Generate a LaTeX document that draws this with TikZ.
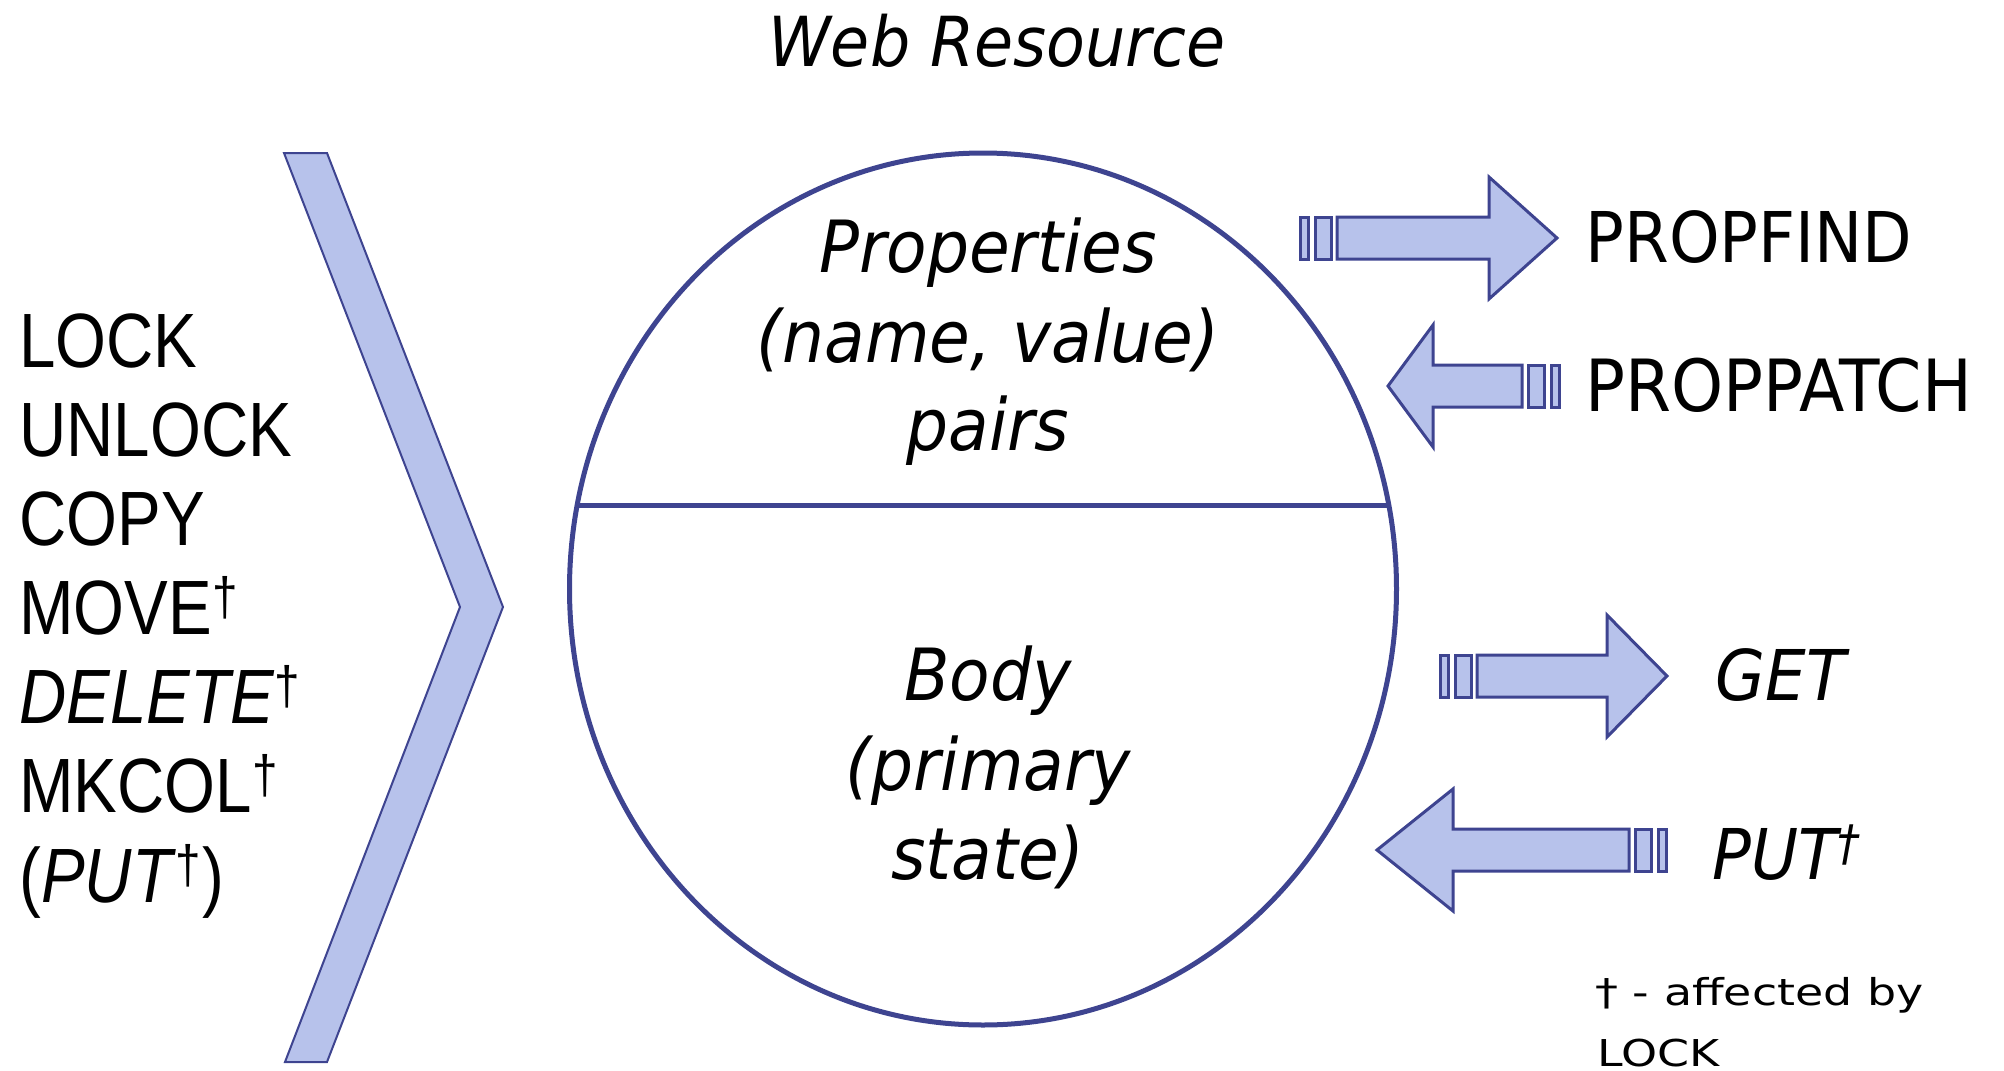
\documentclass[tikz,border=0pt]{standalone}
\usepackage{fontspec}
\setmainfont{Liberation Sans}
\newfontfamily\listfont[FakeStretch=0.85]{Liberation Sans}
\newfontfamily\tahoma[FakeStretch=0.92]{DejaVu Sans}
\newfontfamily\notefont[FakeStretch=1.24]{DejaVu Sans}
\usetikzlibrary{calc}
\definecolor{resblue}{RGB}{183,194,235}
\definecolor{resline}{RGB}{62,68,144}
\newcommand\dg{\textsuperscript{†}}
\newcommand\stripedarrow[4]{% centre y, tail x, head base x, tip x
  \pgfmathsetmacro\adir{sign(#4-#2)}
  \pgfmathsetmacro\tickA{#2+8*\adir}
  \pgfmathsetmacro\tickB{#2+15*\adir}
  \pgfmathsetmacro\tickC{#2+31*\adir}
  \pgfmathsetmacro\shaftx{#2+37*\adir}
  \draw[arrowbox] (#2,#1-21) rectangle (\tickA,#1+21);
  \draw[arrowbox] (\tickB,#1-21) rectangle (\tickC,#1+21);
  \draw[arrowbox] (\shaftx,#1-21) -- (#3,#1-21) -- (#3,#1-61) -- (#4,#1)
    -- (#3,#1+61) -- (#3,#1+21) -- (\shaftx,#1+21) -- cycle;
}
\tikzset{
    % shapes
    arrowbox/.style={draw=resline, fill=resblue, line width=1.5pt},
    chevron/.style={draw=resline, fill=resblue, line width=1pt},
    resource/.style={draw=resline, line width=2.5pt},
    % texts
    method/.style={anchor=base west, inner sep=0pt,
           font=\listfont\fontsize{38.5}{44}\selectfont},
    verb/.style={anchor=base west, inner sep=0pt,
           font=\tahoma\fontsize{35}{44}\selectfont},
    part/.style={anchor=base, inner sep=0pt,
           font=\tahoma\itshape\fontsize{36}{44}\selectfont}
}
\begin{document}
\begin{tikzpicture}[x=0.5pt, y=-0.5pt]
  \useasboundingbox (0,0) rectangle (2004,1071);
  % the resource
  \draw[resource] (983,589) ellipse [x radius=413.5, y radius=436];
  \draw[resource] (577,505) -- (1389,505);
  \node (title) at (997,66) [part, font=\tahoma\itshape\fontsize{34.5}{40}\selectfont] {Web Resource};
  \node (props) at (988,272) [part] {Properties};
  \node (pairs) at (988,362) [part] {(name, value)};
  \node (pairs2) at (988,450) [part] {pairs};
  \node (body) at (988,700) [part] {Body};
  \node (body2) at (988,790) [part] {(primary};
  \node (body3) at (988,879) [part] {state)};
  % methods on the whole resource
  \draw[chevron] (284,153) -- (327,153) -- (503,607) -- (327,1062)
    -- (285,1062) -- (460,607) -- cycle;
  \node (lock) at (19,367) [method] {LOCK};
  \node (unlock) at (19,456) [method] {UNLOCK};
  \node (copy) at (19,545) [method] {COPY};
  \node (move) at (19,634) [method] {MOVE\dg};
  \node (delete) at (19,723) [method] {\textit{DELETE}\dg};
  \node (mkcol) at (19,812) [method] {MKCOL\dg};
  \node (putall) at (19,902) [method] {(\textit{PUT}\dg)};
  % methods on parts
  \stripedarrow{238}{1300}{1489}{1557}
  \stripedarrow{386}{1559}{1433}{1388}
  \stripedarrow{676}{1440}{1607}{1667}
  \stripedarrow{850}{1666}{1453}{1377}
  \node (propfind) at (1585,262) [verb] {PROPFIND};
  \node (proppatch) at (1585,411) [verb, font=\tahoma\fontsize{36}{44}\selectfont] {PROPPATCH};
  \node (get) at (1715,700) [verb, font=\tahoma\itshape\fontsize{35}{44}\selectfont] {GET};
  \node (put) at (1712,879) [verb, font=\tahoma\itshape\fontsize{35}{44}\selectfont] {PUT\dg};
  \node (note) at (1595,1005) [verb, font=\notefont\fontsize{18.5}{30}\selectfont] {† - affected by};
  \node (note2) at (1597,1066) [verb, font=\notefont\fontsize{18.5}{30}\selectfont] {LOCK};
\end{tikzpicture}
\end{document}
